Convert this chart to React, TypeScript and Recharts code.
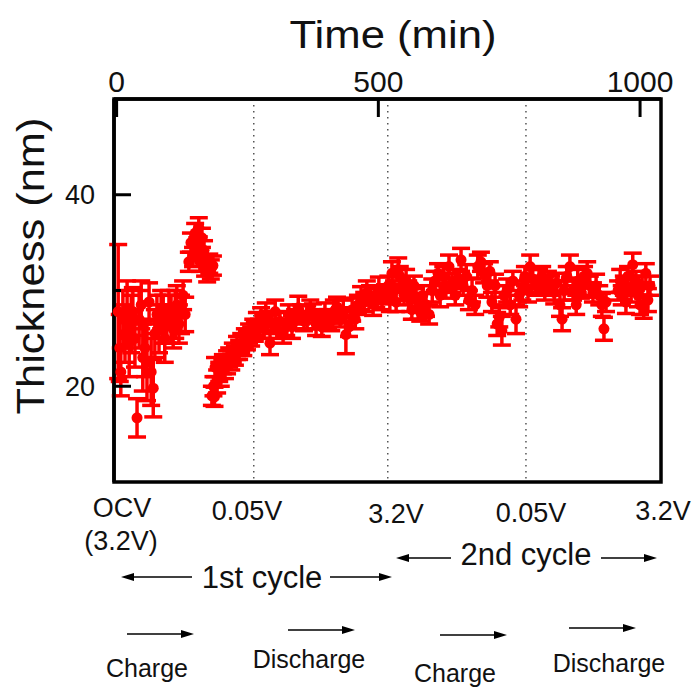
import { ErrorBar, ReferenceArea, ReferenceLine, Scatter, ScatterChart, XAxis, YAxis } from "recharts";

// time (min), thickness (nm), error (nm)
const timeMin = [
  3, 6, 8, 12, 16, 20, 24, 28, 31, 35, 39, 43, 47, 50, 54, 58, 62, 66, 70, 73, 77, 81, 85, 89, 92, 96, 100, 104, 108, 112, 115, 119, 123, 127, 131,
  138, 142, 146, 150, 154, 157, 159, 163, 167, 169, 173, 177, 180, 184,
  182, 185, 187, 188, 192, 196, 199, 203, 207, 211, 215, 219, 222, 226, 230, 234, 238, 242, 245, 249, 253, 257, 261, 264, 268, 272, 276,
  280, 285, 289, 293, 297, 303, 306, 312, 318, 324, 329, 335, 341, 347, 352, 358, 364, 370, 375, 381, 387, 392, 398, 404, 410, 415, 421, 427, 433, 438, 444, 450, 456, 461, 467, 473, 478, 484, 490, 496, 501, 507, 513,
  519, 522, 526, 530, 534, 538, 541, 545, 549, 553, 557, 561, 564, 568, 572, 576, 580, 585, 591, 597, 603, 608, 614, 618, 624, 629, 635, 641, 647, 652, 658, 662, 668, 673, 679, 685, 690, 696, 702, 708, 713, 717, 723, 727, 731, 736, 740, 746, 752, 757, 763, 769, 775,
  780, 786, 790, 795, 801, 807, 813, 818, 824, 830, 836, 841, 847, 851, 855, 860, 866, 872, 878, 881, 887, 893, 899, 904, 910, 916, 922, 927, 931, 935,
  958, 962, 965, 969, 973, 977, 983, 986, 992, 996, 1000, 1004, 1007, 1011, 1015, 1019,
];

const thicknessNm = [
  27.8, 24.0, 21.5, 27.0, 25.5, 28.0, 24.5, 26.5, 27.8, 25.0, 16.7, 27.0, 28.5, 23.0, 24.0, 22.5, 28.8, 21.5, 19.8, 25.5, 27.5, 26.0, 28.0, 27.0, 25.0, 26.5, 28.0, 27.0, 26.0, 27.5, 28.5, 26.5, 27.5, 29.5, 27.5,
  33.0, 35.0, 33.5, 36.0, 34.5, 36.6, 33.0, 35.5, 34.2, 32.5, 31.9, 32.8, 32.2, 32.6,
  19.0, 20.0, 18.9, 22.0, 20.5, 21.5, 21.0, 22.3, 21.8, 22.5, 23.0, 22.7, 23.5, 23.2, 24.0, 23.8, 24.5, 24.2, 25.0, 24.8, 25.5, 25.2, 26.0, 25.7, 26.5, 26.0, 27.0,
  26.2, 27.5, 26.8, 24.5, 26.5, 27.8, 26.0, 26.8, 25.5, 26.5, 27.5, 26.2, 27.0, 28.2, 27.5, 26.8, 27.2, 28.0, 27.6, 26.5, 27.0, 26.2, 27.5, 27.0, 26.8, 27.8, 28.3, 27.2, 27.8, 25.4, 26.2, 28.0, 27.0, 28.5, 29.2, 28.8, 29.8, 29.5, 28.6, 29.2, 30.2, 29.0, 29.6,
  30.5, 29.0, 31.8, 30.0, 28.8, 32.2, 31.5, 30.2, 29.5, 31.0, 30.0, 29.0, 28.0, 30.5, 29.2, 28.2, 27.8, 29.5, 28.5, 27.5, 30.0, 31.0, 31.8, 29.5, 31.5, 30.2, 32.5, 30.8, 29.5, 31.2, 33.2, 30.5, 31.5, 29.0, 30.0, 28.5, 32.5, 33.0, 31.8, 30.5, 32.0, 28.8, 30.5, 26.5, 27.2, 25.8, 29.5, 30.0, 28.5, 31.0, 27.0, 29.5, 30.0,
  31.5, 30.0, 32.5, 31.2, 30.5, 31.0, 31.5, 30.2, 31.0, 30.5, 29.8, 30.8, 28.5, 27.0, 30.0, 31.5, 32.5, 30.0, 28.5, 31.0, 30.2, 31.5, 31.8, 30.5, 29.8, 30.5, 29.5, 28.5, 26.0, 28.8,
  30.0, 31.0, 29.5, 30.5, 28.8, 31.5, 30.0, 32.7, 31.0, 29.5, 28.5, 30.5, 28.3, 31.8, 29.0, 30.5,
];

const errorNm = [
  7.0, 3.5, 2.5, 3.0, 3.0, 3.0, 3.5, 3.0, 2.5, 3.0, 2.0, 3.0, 2.5, 3.5, 3.0, 4.0, 2.0, 3.5, 3.0, 2.5, 2.0, 2.5, 2.0, 2.5, 2.5, 2.0, 2.0, 2.5, 2.0, 2.5, 2.0, 2.0, 2.0, 1.5, 1.8,
  1.0, 1.0, 1.0, 1.0, 1.0, 1.0, 1.0, 1.0, 1.0, 1.0, 1.0, 1.0, 1.0, 1.0,
  1.0, 1.0, 1.0, 1.0, 1.2, 1.0, 1.0, 1.0, 1.0, 1.2, 1.0, 1.0, 1.0, 1.0, 1.2, 1.0, 1.0, 1.0, 1.0, 1.0, 1.0, 1.0, 1.0, 1.0, 1.2, 1.0, 1.2,
  1.2, 1.2, 1.0, 1.2, 1.0, 1.2, 1.0, 1.0, 1.0, 1.2, 1.0, 1.2, 1.0, 1.2, 1.0, 1.0, 1.2, 1.0, 1.0, 1.2, 1.0, 1.0, 1.2, 1.0, 1.0, 1.2, 1.0, 1.0, 1.2, 2.0, 1.0, 1.2, 1.0, 1.0, 1.2, 1.0, 1.2, 1.0, 1.2, 1.0, 1.2, 1.0, 1.0,
  1.0, 1.2, 1.2, 1.0, 1.0, 1.2, 1.0, 1.2, 1.0, 1.2, 1.0, 1.2, 1.0, 1.0, 1.0, 1.2, 1.0, 1.0, 1.2, 1.0, 1.2, 1.0, 1.0, 1.2, 1.0, 1.0, 1.2, 1.0, 1.0, 1.0, 1.2, 1.0, 1.2, 1.0, 1.2, 1.0, 1.2, 1.0, 1.0, 1.2, 1.0, 1.0, 1.2, 1.2, 1.0, 1.5, 1.0, 1.2, 1.0, 1.0, 1.5, 1.2, 1.0,
  1.0, 1.2, 1.2, 1.0, 1.0, 1.2, 1.0, 1.2, 1.0, 1.0, 1.2, 1.0, 1.2, 1.2, 1.0, 1.0, 1.2, 1.0, 1.0, 1.2, 1.0, 1.0, 1.2, 1.0, 1.0, 1.2, 1.0, 1.2, 1.2, 1.0,
  1.0, 1.2, 1.0, 1.0, 1.2, 1.0, 1.2, 1.2, 1.0, 1.2, 1.0, 1.0, 1.2, 1.0, 1.2, 1.0,
];

const xTicks = [0, 500, 1000];
const yTicks = [20, 30, 40];
const yLabelled = [20, 40];
const stepTimes = [262, 518, 782];

const points = timeMin.map((t, i) => ({ time: t, thickness: thicknessNm[i], err: errorNm[i] }));

const FONT = "'Liberation Sans', Arial, sans-serif";
const RED = "#ff0000";
const Y_TICK_MARGIN = 19;

function YTick(props: any) {
  const { x, y, payload } = props;
  const axisX = x + Y_TICK_MARGIN;
  const major = yLabelled.includes(payload.value);
  return (
    <g>
      <line x1={axisX} x2={axisX + (major ? 17 : 7)} y1={y} y2={y} stroke="#000" strokeWidth={3} />
      {major && (
        <text x={x} y={y} dy="0.36em" textAnchor="end" fontSize={27} fontFamily={FONT} fill="#111">
          {payload.value}
        </text>
      )}
    </g>
  );
}

function Arrow({ x1, x2, y }: { x1: number; x2: number; y: number }) {
  // x2 is the tip
  const dir = x2 > x1 ? 1 : -1;
  const head = 13;
  return (
    <g>
      <line x1={x1} y1={y} x2={x2 - dir * head} y2={y} stroke="#000" strokeWidth={1.5} />
      <polygon points={`${x2},${y} ${x2 - dir * head},${y - 4} ${x2 - dir * head},${y + 4}`} fill="#000" />
    </g>
  );
}

function Annotations() {
  const t = { fontFamily: FONT, fill: "#111", textAnchor: "middle" as const };
  return (
    <svg width={697} height={693} style={{ position: "absolute", left: 0, top: 0, pointerEvents: "none" }}>
      <text x={393} y={48} fontSize={39} textLength={207} lengthAdjust="spacingAndGlyphs" {...t}>
        Time (min)
      </text>
      <text transform="translate(44,266) rotate(-90)" fontSize={39} textLength={297} lengthAdjust="spacingAndGlyphs" {...t}>
        Thickness (nm)
      </text>

      <text x={122} y={517} fontSize={27} {...t}>OCV</text>
      <text x={121} y={550} fontSize={27} {...t}>(3.2V)</text>
      <text x={247} y={520} fontSize={27} {...t}>0.05V</text>
      <text x={396} y={523} fontSize={27} {...t}>3.2V</text>
      <text x={531} y={522} fontSize={27} {...t}>0.05V</text>
      <text x={663} y={520} fontSize={27} {...t}>3.2V</text>

      <text x={262} y={588} fontSize={31} {...t}>1st cycle</text>
      <Arrow x1={192} x2={121} y={577} />
      <Arrow x1={330} x2={392} y={577} />
      <text x={526} y={565} fontSize={31} {...t}>2nd cycle</text>
      <Arrow x1={451} x2={396} y={558} />
      <Arrow x1={601} x2={657} y={558} />

      <Arrow x1={127} x2={194} y={634} />
      <Arrow x1={288} x2={355} y={630} />
      <Arrow x1={440} x2={507} y={635} />
      <Arrow x1={569} x2={636} y={628} />
      <text x={147} y={677} fontSize={25} {...t}>Charge</text>
      <text x={309} y={668} fontSize={25} {...t}>Discharge</text>
      <text x={455} y={682} fontSize={25} {...t}>Charge</text>
      <text x={609} y={672} fontSize={25} {...t}>Discharge</text>
    </svg>
  );
}

export default function App() {
  return (
    <div style={{ position: "absolute", left: 0, top: 0, width: 697, height: 693, background: "#fff" }}>
      <ScatterChart width={697} height={693} margin={{ top: 59, right: 36, bottom: 211, left: 54 }}>
        <XAxis
          dataKey="time"
          type="number"
          orientation="top"
          height={40}
          domain={[-5, 1040]}
          ticks={xTicks}
          tickSize={-18}
          tickMargin={25}
          axisLine={{ stroke: "#000", strokeWidth: 3.5 }}
          tickLine={{ stroke: "#000", strokeWidth: 3 }}
          tick={{ fill: "#111", fontSize: 30, fontFamily: FONT }}
        />
        <YAxis
          dataKey="thickness"
          type="number"
          width={60}
          domain={[10, 50]}
          ticks={yTicks}
          tickSize={0}
          tickMargin={Y_TICK_MARGIN}
          tickLine={false}
          axisLine={{ stroke: "#000", strokeWidth: 3.5 }}
          tick={<YTick />}
        />
        {stepTimes.map((s) => (
          <ReferenceLine key={s} x={s} stroke="#555" strokeWidth={1.5} strokeDasharray="1.5 4.5" />
        ))}
        <Scatter
          data={points}
          isAnimationActive={false}
          fill={RED}
          shape={(p: any) => <circle cx={p.cx} cy={p.cy} r={5.5} fill={RED} />}
        >
          <ErrorBar dataKey="err" direction="y" width={9} stroke={RED} strokeWidth={3.5} isAnimationActive={false} />
        </Scatter>
        <ReferenceArea x1={-5} x2={1040} y1={10} y2={50} fill="none" stroke="#000" strokeWidth={3.5} />
      </ScatterChart>
      <Annotations />
    </div>
  );
}
